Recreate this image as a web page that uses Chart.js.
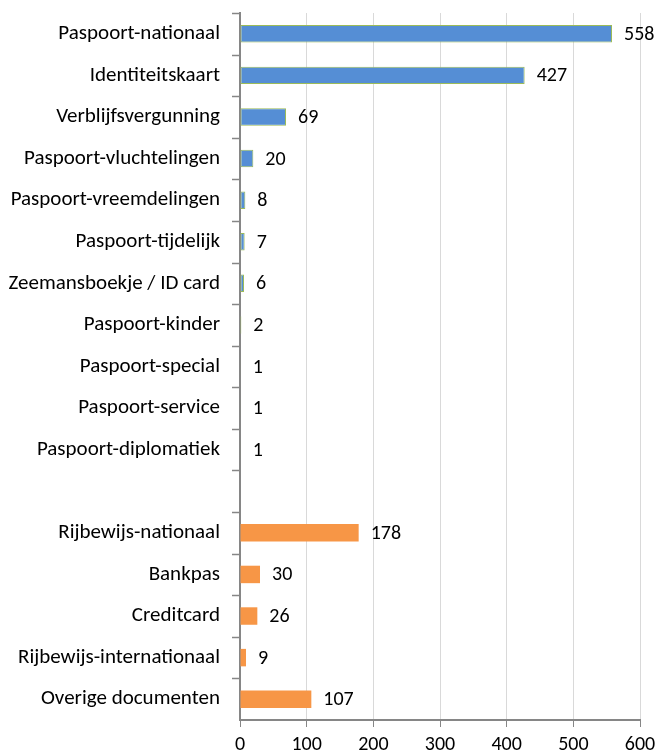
<!DOCTYPE html>
<html>
<head>
<meta charset="utf-8">
<script src="https://cdn.jsdelivr.net/npm/chart.js@4"></script>
<style>
  html, body { margin: 0; padding: 0; background: #fff; }
  #wrap { width: 658px; height: 756px; }
</style>
</head>
<body>
<div id="wrap"><canvas id="myChart" width="658" height="756"></canvas></div>
<script>
// categorieen (lege regel scheidt de twee groepen)
const labels = [
    'Paspoort-nationaal', 'Identiteitskaart', 'Verblijfsvergunning', 'Paspoort-vluchtelingen',
    'Paspoort-vreemdelingen', 'Paspoort-tijdelijk', 'Zeemansboekje / ID card', 'Paspoort-kinder',
    'Paspoort-special', 'Paspoort-service', 'Paspoort-diplomatiek', '',
    'Rijbewijs-nationaal', 'Bankpas', 'Creditcard', 'Rijbewijs-internationaal', 'Overige documenten'
];
const reisdocumenten = [558, 427, 69, 20, 8, 7, 6, 2, 1, 1, 1, null, null, null, null, null, null];
const overigeDocumenten = [null, null, null, null, null, null, null, null, null, null, null, null, 178, 30, 26, 9, 107];
const xTicks = [0, 100, 200, 300, 400, 500, 600];

const FONT = 'Carlito, Calibri, Lato, sans-serif';
const SIZE = 21;

const valueLabels = {
    id: 'valueLabels',
    afterDatasetsDraw(chart) {
        const ctx = chart.ctx;
        ctx.save();
        ctx.font = '20px ' + FONT;
        ctx.fillStyle = '#000';
        ctx.textBaseline = 'middle';
        ctx.textAlign = 'left';
        chart.data.datasets.forEach((ds, i) => {
            chart.getDatasetMeta(i).data.forEach((bar, j) => {
                if (ds.data[j] == null) return;
                ctx.fillText(String(ds.data[j]), bar.x + 12, bar.y + 1);
            });
        });
        ctx.restore();
    }
};

// tickstreepjes links van de y-as, tussen de categorieen (zoals Excel)
const yTickMarks = {
    id: 'yTickMarks',
    afterDraw(chart) {
        const area = chart.chartArea;
        const ctx = chart.ctx;
        const n = chart.data.labels.length;
        const step = (area.bottom - area.top) / n;
        ctx.save();
        ctx.strokeStyle = '#868686';
        ctx.lineWidth = 1.5;
        ctx.beginPath();
        for (let i = 0; i < n; i++) {
            const py = Math.round(area.top + i * step) + 0.5;
            ctx.moveTo(area.left - 8, py);
            ctx.lineTo(area.left, py);
        }
        ctx.stroke();
        ctx.restore();
    }
};

const ctx = document.getElementById('myChart').getContext('2d');
new Chart(ctx, {
    type: 'bar',
    data: {
        labels: labels,
        datasets: [{
            label: 'Reisdocumenten',
            data: reisdocumenten,
            backgroundColor: '#558ED5',
            borderColor: '#9BBB59',
            borderWidth: 1,
            borderSkipped: false,
            barPercentage: 0.42,
            categoryPercentage: 1
        }, {
            label: 'Overige',
            data: overigeDocumenten,
            backgroundColor: '#F79646',
            borderWidth: 0,
            barPercentage: 0.42,
            categoryPercentage: 1
        }]
    },
    plugins: [valueLabels, yTickMarks],
    options: {
        indexAxis: 'y',
        responsive: false,
        animation: false,
        layout: { padding: { top: 13, right: 18, left: 0, bottom: 0 } },
        plugins: {
            legend: { display: false },
            tooltip: { enabled: false }
        },
        scales: {
            x: {
                min: 0,
                max: 600,
                afterBuildTicks(scale) { scale.ticks = xTicks.map(v => ({ value: v })); },
                grid: { color: '#D9D9D9', lineWidth: 1, tickColor: '#868686', tickLength: 7, drawTicks: true },
                border: { color: '#868686', width: 2 },
                ticks: { color: '#000', font: { family: FONT, size: 20 }, padding: 6, maxRotation: 0 },
                afterFit(scale) {
                    scale.height = 36;
                    scale.paddingLeft = 0;
                    scale.paddingRight = 0;
                }
            },
            y: {
                stacked: true,
                grid: { display: false },
                border: { color: '#868686', width: 2 },
                ticks: { color: '#000', font: { family: FONT, size: SIZE }, padding: 12, autoSkip: false },
                afterFit(scale) {
                    scale.width = 240;
                    scale.paddingTop = 0;
                    scale.paddingBottom = 0;
                }
            }
        }
    }
});
</script>
</body>
</html>
